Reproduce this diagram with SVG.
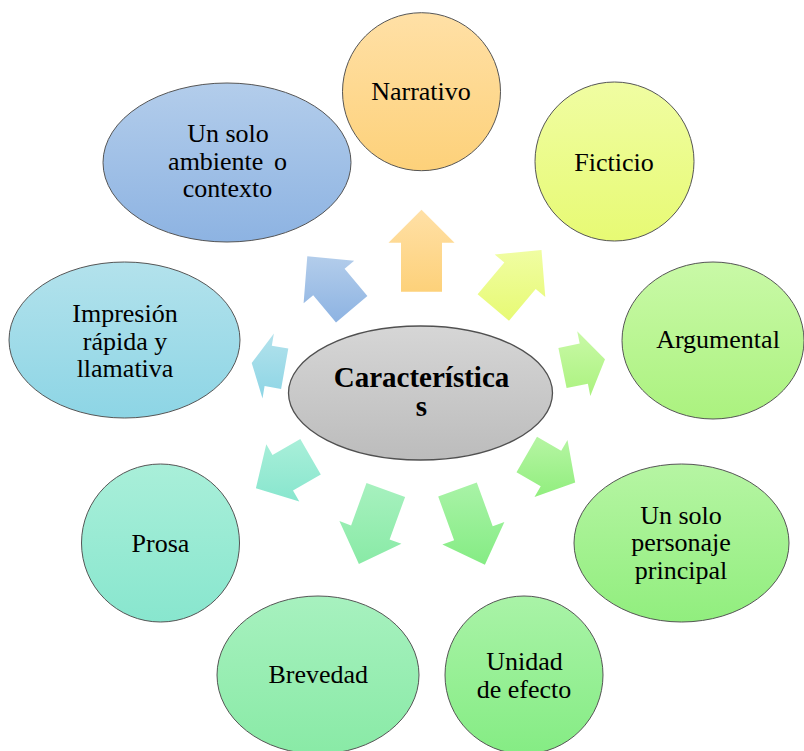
<svg xmlns="http://www.w3.org/2000/svg" width="804" height="751" viewBox="0 0 804 751">
<defs>
<linearGradient id="gAmb" x1="0" y1="0" x2="0" y2="1"><stop offset="0" stop-color="#B3CDEB"/><stop offset="1" stop-color="#8DB3E2"/></linearGradient>
<linearGradient id="gNar" x1="0" y1="0" x2="0" y2="1"><stop offset="0" stop-color="#FFE0A6"/><stop offset="1" stop-color="#FDD17A"/></linearGradient>
<linearGradient id="gFic" x1="0" y1="0" x2="0" y2="1"><stop offset="0" stop-color="#F0FDA2"/><stop offset="1" stop-color="#E7FA74"/></linearGradient>
<linearGradient id="gArg" x1="0" y1="0" x2="0" y2="1"><stop offset="0" stop-color="#C9F9A7"/><stop offset="1" stop-color="#ABF27F"/></linearGradient>
<linearGradient id="gPer" x1="0" y1="0" x2="0" y2="1"><stop offset="0" stop-color="#B6F5A3"/><stop offset="1" stop-color="#91EE7E"/></linearGradient>
<linearGradient id="gUni" x1="0" y1="0" x2="0" y2="1"><stop offset="0" stop-color="#A9F3A7"/><stop offset="1" stop-color="#85EC84"/></linearGradient>
<linearGradient id="gBre" x1="0" y1="0" x2="0" y2="1"><stop offset="0" stop-color="#A7F1BF"/><stop offset="1" stop-color="#89EAA6"/></linearGradient>
<linearGradient id="gPro" x1="0" y1="0" x2="0" y2="1"><stop offset="0" stop-color="#A9EFD9"/><stop offset="1" stop-color="#88E6CE"/></linearGradient>
<linearGradient id="gImp" x1="0" y1="0" x2="0" y2="1"><stop offset="0" stop-color="#B3E2EC"/><stop offset="1" stop-color="#8DD5E5"/></linearGradient>
<linearGradient id="gCen" x1="0" y1="0" x2="0" y2="1"><stop offset="0" stop-color="#D6D6D6"/><stop offset="1" stop-color="#BCBCBC"/></linearGradient>
</defs>
<style>
.node{stroke:#555555;stroke-width:1}
.center{stroke:#505050;stroke-width:1.3}
.lbl{font-family:"Liberation Serif","Times New Roman",serif;font-size:26px;fill:#000;text-anchor:middle}
.clbl{font-family:"Liberation Serif","Times New Roman",serif;font-size:29px;font-weight:bold;fill:#000;text-anchor:middle}
.arrow{stroke:none}
</style>
<g id="connectors">
<polygon class="arrow" fill="url(#gNar)" points="401,291.7 401,242.7 388.5,242.7 421.5,209.7 454.5,242.7 442,242.7 442,291.7"/>
<polygon class="arrow" fill="url(#gFic)" points="477.6,294.3 504.3,262.5 494.7,254.5 541.5,250.1 545.3,296.9 535.7,288.9 509,320.7"/>
<polygon class="arrow" fill="url(#gArg)" points="558.4,347.9 579.7,343.6 577.2,331.3 605,359.3 590.3,396 587.9,383.8 566.6,388.1"/>
<polygon class="arrow" fill="url(#gPer)" points="537,436.8 561.2,450.8 567.5,439.9 575.2,482.5 534.5,497.1 540.7,486.3 516.5,472.3"/>
<polygon class="arrow" fill="url(#gUni)" points="476.8,482.5 492.7,526.2 504.4,521.9 484.9,564.7 442.4,544.5 454.1,540.2 438.2,496.5"/>
<polygon class="arrow" fill="url(#gBre)" points="405.1,497 389.6,539.4 401.4,543.7 358.9,563.9 339.4,521.1 351.1,525.4 366.5,483"/>
<polygon class="arrow" fill="url(#gPro)" points="320.8,474.6 293,490.6 299.3,501.4 255.9,488.3 266.3,444.2 272.5,455.1 300.3,439.1"/>
<polygon class="arrow" fill="url(#gImp)" points="281.1,389 264.6,386.1 262.5,398.4 251.7,363 273.9,333.4 271.8,345.7 288.3,348.6"/>
<polygon class="arrow" fill="url(#gAmb)" points="336,322.4 313.2,295.2 303.6,303.2 307.3,256.3 354.2,260.8 344.6,268.8 367.4,296"/>
</g>
<g id="node-ambiente">
<ellipse class="node" cx="227" cy="162.5" rx="124" ry="79.5" fill="url(#gAmb)"/>
<text class="lbl" x="228" y="142.3">Un solo</text>
<text class="lbl" x="227.5" y="169.8" word-spacing="4">ambiente o</text>
<text class="lbl" x="227.5" y="197.3">contexto</text>
</g>
<g id="node-narrativo">
<circle class="node" cx="421.5" cy="91.7" r="79" fill="url(#gNar)"/>
<text class="lbl" x="421" y="100">Narrativo</text>
</g>
<g id="node-ficticio">
<circle class="node" cx="614.5" cy="161.5" r="79.5" fill="url(#gFic)"/>
<text class="lbl" x="614" y="170.7">Ficticio</text>
</g>
<g id="node-argumental">
<ellipse class="node" cx="713" cy="340.5" rx="91" ry="78.5" fill="url(#gArg)"/>
<text class="lbl" x="718" y="348.3">Argumental</text>
</g>
<g id="node-personaje">
<ellipse class="node" cx="681.5" cy="543" rx="107.5" ry="79" fill="url(#gPer)"/>
<text class="lbl" x="681" y="523.5">Un solo</text>
<text class="lbl" x="681" y="551">personaje</text>
<text class="lbl" x="681" y="578.5">principal</text>
</g>
<g id="node-unidad">
<circle class="node" cx="524" cy="675" r="79" fill="url(#gUni)"/>
<text class="lbl" x="524.5" y="670">Unidad</text>
<text class="lbl" x="524" y="697.5">de efecto</text>
</g>
<g id="node-brevedad">
<ellipse class="node" cx="318" cy="675" rx="101" ry="79" fill="url(#gBre)"/>
<text class="lbl" x="318.3" y="683.3">Brevedad</text>
</g>
<g id="node-prosa">
<circle class="node" cx="160.5" cy="543" r="79" fill="url(#gPro)"/>
<text class="lbl" x="160.5" y="551.7">Prosa</text>
</g>
<g id="node-impresion">
<ellipse class="node" cx="124.5" cy="340" rx="115.5" ry="78" fill="url(#gImp)"/>
<text class="lbl" x="125" y="322">Impresión</text>
<text class="lbl" x="125" y="349.5">rápida y</text>
<text class="lbl" x="125" y="377">llamativa</text>
</g>
<g id="node-centro">
<ellipse class="center" cx="420.5" cy="393" rx="132" ry="67" fill="url(#gCen)"/>
<text class="clbl" x="421.5" y="386.7">Característica</text>
<text class="clbl" x="421.5" y="416">s</text>
</g>
</svg>
